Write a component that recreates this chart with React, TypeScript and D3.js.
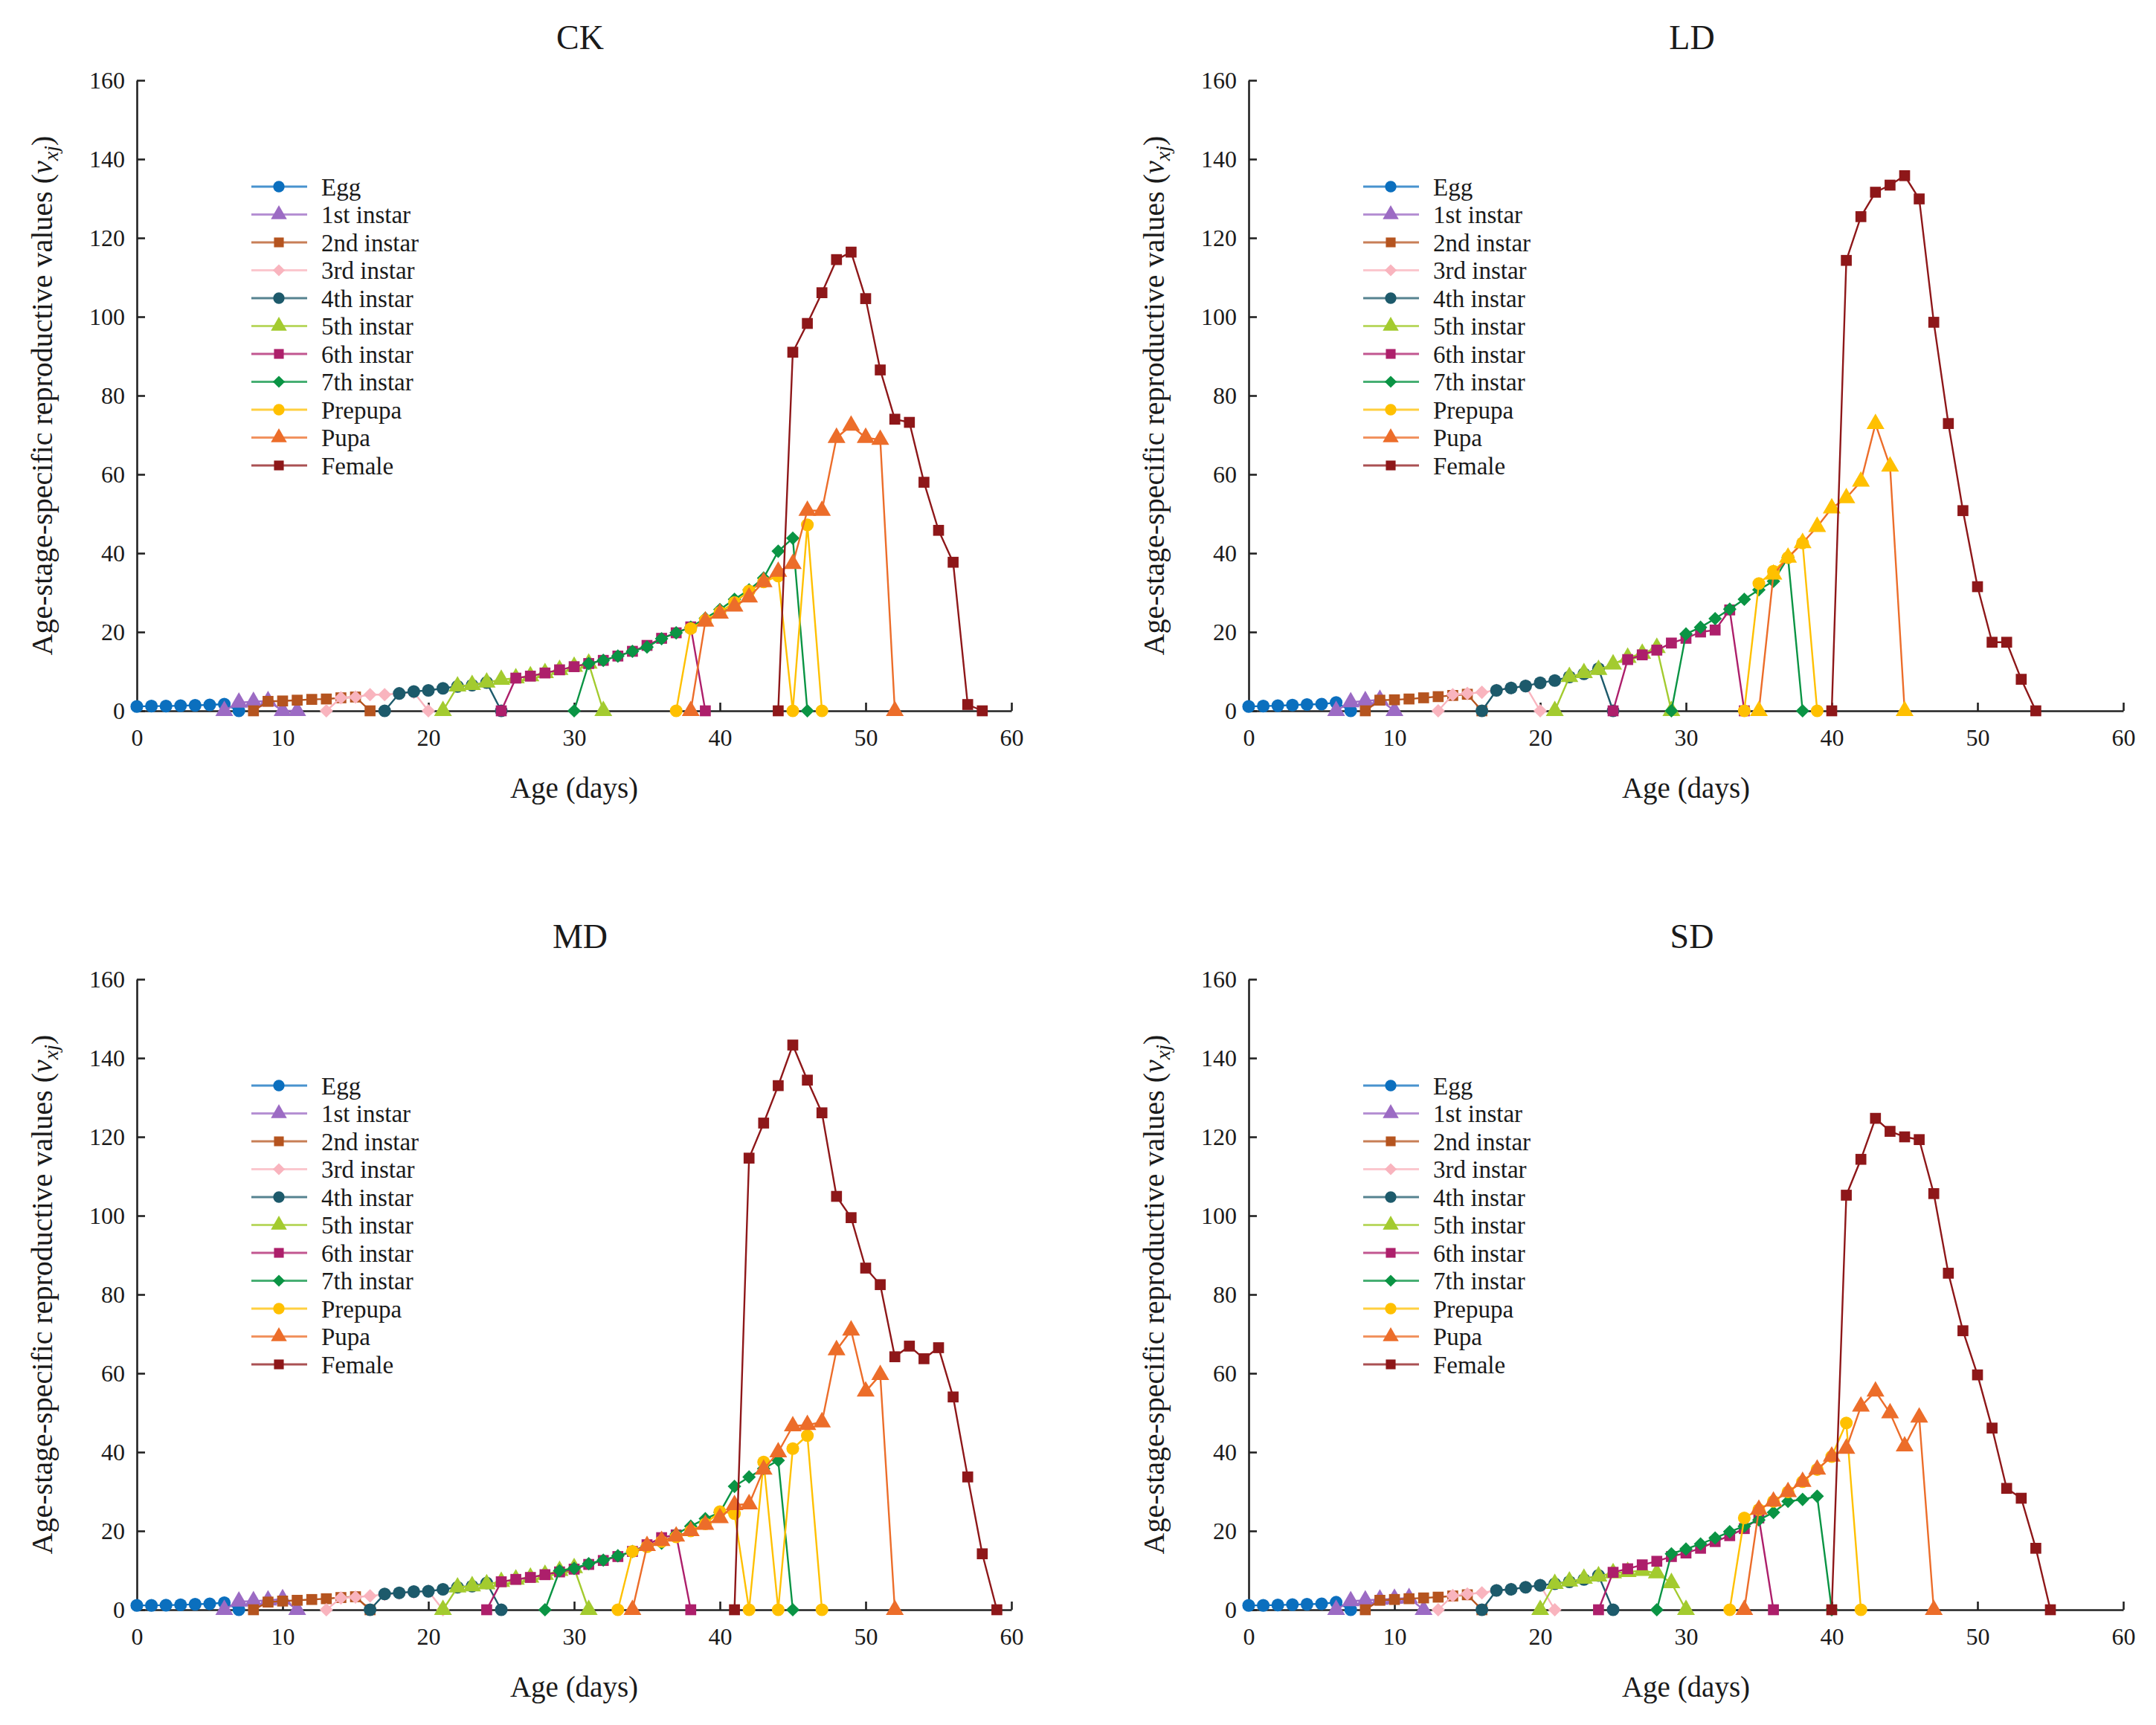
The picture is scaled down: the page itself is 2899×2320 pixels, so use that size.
import { useEffect, useRef } from "react"
import * as d3 from "d3"

// Stages (legend order) and their styling
const stages = [
  "Egg",
  "1st instar",
  "2nd instar",
  "3rd instar",
  "4th instar",
  "5th instar",
  "6th instar",
  "7th instar",
  "Prepupa",
  "Pupa",
  "Female",
]
const stageColors = [
  "#0B6FBE",
  "#9C6BC4",
  "#B5541F",
  "#F9B4BE",
  "#1D5A6B",
  "#A3CB2F",
  "#AD1F6B",
  "#0A9444",
  "#FFC000",
  "#EC6D2A",
  "#8E1719",
]
const stageSymbols = [
  d3.symbolCircle,
  d3.symbolTriangle,
  d3.symbolSquare,
  d3.symbolDiamond2,
  d3.symbolCircle,
  d3.symbolTriangle,
  d3.symbolSquare,
  d3.symbolDiamond2,
  d3.symbolCircle,
  d3.symbolTriangle,
  d3.symbolSquare,
]
const symbolSizes = [230, 250, 215, 210, 230, 250, 215, 210, 230, 250, 215]

const xTicks = [0, 10, 20, 30, 40, 50, 60]
const yTicks = [0, 20, 40, 60, 80, 100, 120, 140, 160]

// CK: first age of each stage series, then the daily values
const ckStart = [0, 6, 8, 13, 17, 21, 25, 30, 37, 38, 44]
const ckValues = [
  [1.1, 1.2, 1.2, 1.3, 1.4, 1.5, 1.7, 0],
  [0, 2.1, 2.3, 2.5, 0, 0],
  [0, 2.4, 2.5, 2.7, 2.9, 3.0, 3.3, 3.5, 0],
  [0, 3.3, 3.5, 4.1, 4.1, 4.4, 4.7, 0],
  [0, 4.4, 4.9, 5.2, 5.7, 6.2, 6.5, 7.2, 0],
  [0, 6.2, 6.6, 7.2, 7.9, 8.3, 8.8, 9.6, 10.4, 11.2, 12.0, 0],
  [0, 8.3, 8.8, 9.6, 10.4, 11.2, 12.0, 12.8, 13.9, 15.1, 16.6, 18.4, 19.8, 21.3, 0],
  [0, 12.0, 12.8, 13.9, 15.1, 16.2, 18.3, 19.8, 21.2, 23.5, 25.7, 28.3, 30.7, 33.7, 40.5, 43.8, 0],
  [0, 20.9, 23.0, 25.0, 27.5, 30.4, 32.7, 34.2, 0, 47.2, 0],
  [0, 22.7, 24.7, 26.5, 28.8, 32.7, 35.3, 37.3, 50.8, 50.8, 69.3, 72.4, 69.3, 68.8, 0],
  [0, 91.0, 98.3, 106.1, 114.5, 116.4, 104.6, 86.5, 74.0, 73.2, 58.0, 45.8, 37.7, 1.6, 0],
]

// LD
const ldStart = [0, 6, 8, 13, 16, 21, 25, 29, 34, 35, 40]
const ldValues = [
  [1.1, 1.2, 1.3, 1.45, 1.6, 1.7, 2.1, 0],
  [0, 2.2, 2.5, 2.8, 0],
  [0, 2.7, 2.8, 3.0, 3.3, 3.6, 3.9, 4.2, 0],
  [0, 4.1, 4.4, 4.7, 5.2, 5.8, 6.3, 0],
  [0, 5.2, 5.8, 6.3, 7.1, 7.7, 8.6, 9.4, 10.7, 0],
  [0, 8.6, 9.6, 10.4, 11.8, 13.5, 14.5, 16.0, 0],
  [0, 13.0, 14.2, 15.4, 17.2, 18.4, 20.0, 20.5, 25.6, 0],
  [0, 19.5, 21.2, 23.4, 25.8, 28.3, 30.7, 32.9, 38.9, 0],
  [0, 32.3, 35.4, 38.9, 42.6, 0],
  [0, 34.6, 38.9, 42.6, 46.7, 51.4, 54.0, 58.2, 72.8, 62.0, 0],
  [0, 114.3, 125.4, 131.6, 133.4, 135.8, 129.9, 98.6, 72.9, 50.8, 31.5, 17.4, 17.4, 8.0, 0],
]

// MD
const mdStart = [0, 6, 8, 13, 16, 21, 24, 28, 33, 34, 41]
const mdValues = [
  [1.1, 1.1, 1.15, 1.25, 1.4, 1.5, 1.8, 0],
  [0, 2.1, 2.2, 2.4, 2.7, 0],
  [0, 1.95, 2.2, 2.4, 2.6, 2.8, 3.1, 3.3, 0],
  [0, 3.0, 3.2, 3.5, 3.9, 4.2, 4.5, 4.7, 0],
  [0, 4.0, 4.3, 4.6, 4.7, 5.2, 5.7, 6.0, 6.8, 0],
  [0, 5.7, 6.0, 6.5, 7.1, 7.7, 8.2, 8.9, 9.9, 10.6, 0],
  [0, 7.1, 7.7, 8.2, 8.9, 9.6, 10.3, 11.5, 12.5, 13.5, 14.8, 16.5, 18.3, 19.0, 0],
  [0, 9.9, 10.5, 11.7, 12.6, 13.7, 14.8, 16.2, 16.9, 19.2, 21.2, 23.1, 24.7, 31.3, 33.7, 35.8, 37.9, 0],
  [0, 14.8, 16.0, 17.3, 18.5, 20.0, 21.8, 24.9, 24.4, 0, 37.5, 0, 40.9, 44.2, 0],
  [0, 16.2, 17.5, 18.6, 20.0, 21.6, 23.3, 26.6, 26.8, 35.6, 40.0, 46.6, 46.9, 47.6, 65.9, 70.9, 55.4, 59.6, 0],
  [0, 114.6, 123.5, 133.0, 143.3, 134.4, 126.1, 104.9, 99.5, 86.7, 82.5, 64.2, 66.9, 63.7, 66.5, 54.0, 33.7, 14.2, 0],
]

// SD
const sdStart = [0, 6, 8, 13, 16, 20, 24, 28, 33, 34, 40]
const sdValues = [
  [1.1, 1.1, 1.2, 1.3, 1.4, 1.5, 1.9, 0],
  [0, 2.2, 2.4, 2.6, 2.8, 3.0, 0],
  [0, 2.4, 2.6, 2.8, 3.0, 3.2, 3.5, 3.8, 0],
  [0, 3.6, 4.0, 4.3, 4.9, 5.2, 5.7, 6.2, 0],
  [0, 4.9, 5.2, 5.7, 6.2, 6.6, 7.1, 7.7, 8.7, 0],
  [0, 6.6, 7.2, 7.9, 8.5, 9.3, 9.6, 9.9, 9.3, 6.8, 0],
  [0, 9.5, 10.4, 11.4, 12.3, 13.5, 14.4, 15.6, 17.3, 18.8, 20.6, 23.3, 0],
  [0, 14.2, 15.4, 16.7, 18.2, 19.8, 21.2, 22.8, 24.7, 27.5, 28.0, 28.8, 0],
  [0, 23.3, 25.4, 27.5, 29.9, 32.5, 35.6, 38.9, 47.4, 0],
  [0, 25.4, 27.5, 29.9, 32.5, 35.6, 38.9, 40.9, 51.6, 55.4, 49.9, 41.5, 48.8, 0],
  [0, 105.2, 114.3, 124.7, 121.4, 120.0, 119.3, 105.6, 85.4, 70.8, 59.6, 46.1, 30.8, 28.3, 15.6, 0],
]

const FONT = '"Liberation Serif", "Times New Roman", "DejaVu Serif", serif'
const TEXT = "#1a1a1a"
const W = 1176
const H = 848

interface PanelProps {
  title: string
  starts: number[]
  values: number[][]
  left: number
  top: number
  pupaMarker?: string
}

function Panel({ title, starts, values, left, top, pupaMarker }: PanelProps) {
  const gRef = useRef<SVGGElement>(null)

  useEffect(() => {
    if (!gRef.current) return
    const g = d3.select(gRef.current)
    g.selectAll("*").remove()

    const x = d3.scaleLinear().domain([0, 60]).range([0, W])
    const y = d3.scaleLinear().domain([0, 160]).range([H, 0])

    // axes (ticks point inward)
    const xAxis = g
      .append("g")
      .attr("transform", `translate(0,${H})`)
      .call(d3.axisBottom(x).tickValues(xTicks).tickSizeInner(-11).tickSizeOuter(0).tickPadding(24))
    const yAxis = g
      .append("g")
      .call(d3.axisLeft(y).tickValues(yTicks).tickSizeInner(-11).tickSizeOuter(0).tickPadding(16))
    ;[xAxis, yAxis].forEach((ax) => {
      ax.attr("font-size", null).attr("font-family", null)
      ax.select(".domain").attr("stroke", "#222").attr("stroke-width", 2.6)
      ax.selectAll(".tick line").attr("stroke", "#222").attr("stroke-width", 2.6)
      ax.selectAll(".tick text")
        .attr("fill", TEXT)
        .style("font-family", FONT)
        .style("font-size", "32px")
    })

    // series
    const line = d3
      .line<{ age: number; v: number }>()
      .x((d) => x(d.age))
      .y((d) => y(d.v))

    stages.forEach((name, i) => {
      const pts = values[i].map((v, k) => ({ age: starts[i] + k, v }))
      const markerFill = name === "Pupa" && pupaMarker ? pupaMarker : stageColors[i]
      g.append("path")
        .attr("d", line(pts) || "")
        .attr("fill", "none")
        .attr("stroke", stageColors[i])
        .attr("stroke-width", 2.4)
        .attr("stroke-linejoin", "round")
      g.append("g")
        .selectAll("path")
        .data(pts)
        .enter()
        .append("path")
        .attr("transform", (d) => `translate(${x(d.age)},${y(d.v)})`)
        .attr("d", d3.symbol(stageSymbols[i], symbolSizes[i])() || "")
        .attr("fill", markerFill)
    })

    // legend
    const legend = g
      .append("g")
      .selectAll("g")
      .data(stages)
      .enter()
      .append("g")
      .attr("transform", (d, i) => `translate(154,${143 + i * 37.5})`)
    legend
      .append("line")
      .attr("x1", 0)
      .attr("x2", 75)
      .attr("stroke", (d, i) => stageColors[i])
      .attr("stroke-opacity", 0.75)
      .attr("stroke-width", 3)
    legend
      .append("path")
      .attr("transform", "translate(37,0)")
      .attr("d", (d, i) => d3.symbol(stageSymbols[i], symbolSizes[i] * 0.8)() || "")
      .attr("fill", (d, i) => stageColors[i])
    legend
      .append("text")
      .attr("x", 94)
      .attr("dy", "0.35em")
      .style("font-family", FONT)
      .style("font-size", "33px")
      .attr("fill", TEXT)
      .text((d) => d)

    // titles
    g.append("text")
      .attr("x", W / 2 + 8)
      .attr("y", -42)
      .attr("text-anchor", "middle")
      .style("font-family", FONT)
      .style("font-size", "46px")
      .attr("fill", TEXT)
      .text(title)

    g.append("text")
      .attr("x", W / 2)
      .attr("y", H + 117)
      .attr("text-anchor", "middle")
      .style("font-family", FONT)
      .style("font-size", "39px")
      .attr("fill", TEXT)
      .text("Age (days)")

    const yl = g
      .append("text")
      .attr("transform", `translate(-114,${H / 2}) rotate(-90)`)
      .attr("text-anchor", "middle")
      .style("font-family", FONT)
      .style("font-size", "40px")
      .attr("fill", TEXT)
    yl.append("tspan").text("Age-stage-specific reproductive values (")
    yl.append("tspan").attr("font-style", "italic").text("v")
    yl.append("tspan").attr("font-style", "italic").style("font-size", "28px").attr("dy", 8).text("xj")
    yl.append("tspan").attr("dy", -8).text(")")
  }, [title, starts, values, pupaMarker])

  return <g ref={gRef} transform={`translate(${left},${top})`} />
}

export default function App() {
  return (
    <svg
      width={2899}
      height={2320}
      style={{ position: "absolute", left: 0, top: 0, background: "#fff" }}
    >
      <rect width={2899} height={2320} fill="#fff" />
      <Panel title="CK" starts={ckStart} values={ckValues} left={184} top={108} />
      <Panel title="LD" starts={ldStart} values={ldValues} left={1679} top={108} pupaMarker="#FFC000" />
      <Panel title="MD" starts={mdStart} values={mdValues} left={184} top={1317} />
      <Panel title="SD" starts={sdStart} values={sdValues} left={1679} top={1317} />
    </svg>
  )
}
